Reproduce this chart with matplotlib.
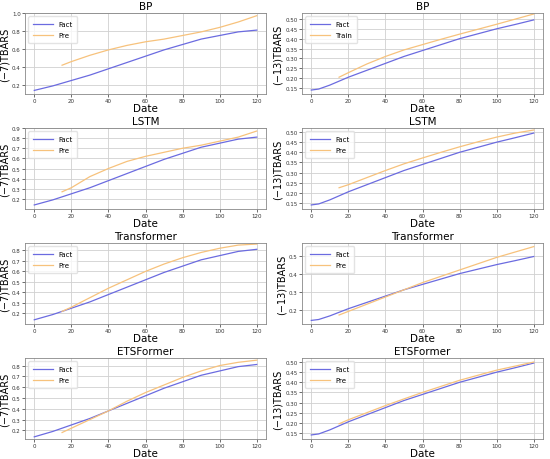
import matplotlib
matplotlib.use("Agg")
import matplotlib.pyplot as plt
import numpy as np

# x positions (Date)
x_fact = [0, 4, 10, 15, 20, 30, 40, 50, 60, 70, 80, 90, 100, 110, 120]
x_pre = [15, 20, 30, 40, 50, 60, 70, 80, 90, 100, 110, 120]

# left column: (-7)TBARS
fact_7 = [0.14, 0.16, 0.19, 0.22, 0.25, 0.31, 0.38, 0.45, 0.52, 0.59, 0.65, 0.71, 0.75, 0.79, 0.81]
bp_7 = [0.42, 0.46, 0.53, 0.59, 0.64, 0.68, 0.71, 0.75, 0.79, 0.84, 0.90, 0.97]
lstm_7 = [0.27, 0.31, 0.42, 0.50, 0.57, 0.62, 0.66, 0.70, 0.73, 0.77, 0.81, 0.87]
trans_7 = [0.22, 0.26, 0.35, 0.44, 0.52, 0.60, 0.67, 0.73, 0.78, 0.82, 0.85, 0.86]
ets_7 = [0.18, 0.22, 0.30, 0.38, 0.47, 0.55, 0.62, 0.69, 0.75, 0.80, 0.83, 0.85]

# right column: (-13)TBARS
fact_13 = [0.14, 0.145, 0.165, 0.185, 0.205, 0.24, 0.275, 0.31, 0.34, 0.37, 0.40, 0.425, 0.45, 0.472, 0.495]
bp_13 = [0.205, 0.228, 0.272, 0.31, 0.343, 0.37, 0.397, 0.423, 0.448, 0.473, 0.499, 0.525]
lstm_13 = [0.225, 0.24, 0.275, 0.31, 0.343, 0.372, 0.4, 0.427, 0.452, 0.475, 0.495, 0.51]
trans_13 = [0.17, 0.19, 0.23, 0.27, 0.31, 0.35, 0.385, 0.42, 0.455, 0.49, 0.52, 0.55]
ets_13 = [0.195, 0.215, 0.25, 0.285, 0.318, 0.35, 0.38, 0.41, 0.435, 0.46, 0.48, 0.50]

titles = ["BP", "LSTM", "Transformer", "ETSFormer"]
pre_7 = [bp_7, lstm_7, trans_7, ets_7]
pre_13 = [bp_13, lstm_13, trans_13, ets_13]
labels_13 = ["Train", "Pre", "Pre", "Pre"]

ylim_7 = [(0.1, 1.0), (0.1, 0.9), (0.1, 0.87), (0.12, 0.87)]
ylim_13 = [(0.12, 0.53), (0.12, 0.52), (0.12, 0.57), (0.12, 0.52)]
yticks_7 = [np.arange(0.2, 1.01, 0.2), np.arange(0.2, 0.91, 0.1),
            np.arange(0.2, 0.81, 0.1), np.arange(0.2, 0.81, 0.1)]
yticks_13 = [np.arange(0.15, 0.51, 0.05), np.arange(0.15, 0.51, 0.05),
             np.arange(0.2, 0.51, 0.1), np.arange(0.15, 0.51, 0.05)]

c_fact = "#6b6be0"
c_pre = "#f7c27c"

fig = plt.figure(figsize=(5.5, 4.6), dpi=100)
tops = [14, 129, 244, 359]
h = 81


def style(ax):
    ax.grid(True, color="#d0d0d0", linewidth=0.6)
    ax.set_axisbelow(True)
    for s in ax.spines.values():
        s.set_color("#888888")
        s.set_linewidth(0.6)
    ax.tick_params(labelsize=4, length=2, width=0.5, pad=1, colors="#333333")
    ax.set_xlim(-5, 125)
    ax.set_xticks(range(0, 121, 20))
    ax.set_xlabel("Date", fontsize=7.5, labelpad=0)


def legend(ax):
    ax.legend(loc="upper left", fontsize=5, frameon=True, handlelength=2.8,
              borderpad=0.7, labelspacing=0.7, framealpha=0.8,
              edgecolor="#dddddd", fancybox=True)


for i in range(4):
    bottom = 1 - (tops[i] + h) / 460
    axl = fig.add_axes([25 / 550, bottom, 241 / 550, h / 460])
    axl.plot(x_fact, fact_7, color=c_fact, lw=0.9, label="Fact")
    axl.plot(x_pre, pre_7[i], color=c_pre, lw=0.9, label="Pre")
    style(axl)
    axl.set_ylim(*ylim_7[i])
    axl.set_yticks(yticks_7[i])
    axl.set_yticklabels(["%.1f" % v for v in yticks_7[i]])
    axl.set_ylabel("(−7)TBARS", fontsize=7, labelpad=2)
    axl.set_title(titles[i], fontsize=7.5, pad=3)
    legend(axl)

    axr = fig.add_axes([302 / 550, bottom, 241 / 550, h / 460])
    axr.plot(x_fact, fact_13, color=c_fact, lw=0.9, label="Fact")
    axr.plot(x_pre, pre_13[i], color=c_pre, lw=0.9, label=labels_13[i])
    style(axr)
    axr.set_ylim(*ylim_13[i])
    axr.set_yticks(yticks_13[i])
    fmt = "%.1f" if i == 2 else "%.2f"
    axr.set_yticklabels([fmt % v for v in yticks_13[i]])
    axr.set_ylabel("(−13)TBARS", fontsize=7, labelpad=2)
    axr.set_title(titles[i], fontsize=7.5, pad=3)
    legend(axr)

fig.savefig("out.png", dpi=100)
